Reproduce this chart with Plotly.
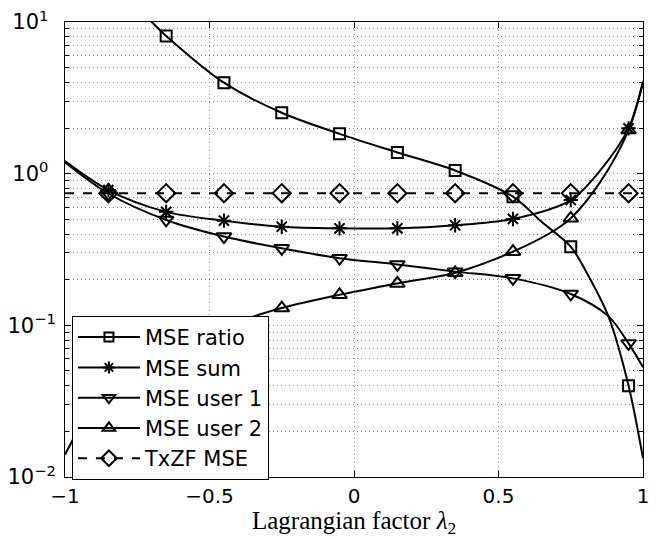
import plotly.graph_objects as go

# ---- data ----
x_mark = [-0.85, -0.65, -0.45, -0.25, -0.05, 0.15, 0.35, 0.55, 0.75, 0.95]

ratio_mark = [None, 8.1, 3.98, 2.52, 1.83, 1.38, 1.05, 0.705, 0.33, 0.040]
ratio_line_x = [-0.75, -0.70, -0.65, -0.45, -0.25, -0.05, 0.15, 0.35, 0.55, 0.65, 0.75, 0.80, 0.88, 0.95, 1.0]
ratio_line_y = [12.5, 10.0, 8.1, 3.98, 2.52, 1.83, 1.38, 1.05, 0.705, 0.48, 0.33, 0.232, 0.115, 0.040, 0.0133]

sum_mark = [0.78, 0.56, 0.49, 0.447, 0.436, 0.436, 0.457, 0.503, 0.67, 1.99]
sum_line_x = [-1.0, -0.85, -0.65, -0.45, -0.25, -0.05, 0.15, 0.35, 0.55, 0.75, 0.85, 0.95, 1.0]
sum_line_y = [1.21, 0.78, 0.56, 0.49, 0.447, 0.436, 0.436, 0.457, 0.503, 0.67, 1.04, 1.99, 4.05]

user1_mark = [0.74, 0.495, 0.385, 0.322, 0.277, 0.252, 0.226, 0.204, 0.161, 0.076]
user1_line_x = [-1.0, -0.85, -0.65, -0.45, -0.25, -0.05, 0.15, 0.35, 0.55, 0.75, 0.88, 0.95, 1.0]
user1_line_y = [1.19, 0.74, 0.495, 0.385, 0.322, 0.277, 0.252, 0.226, 0.204, 0.161, 0.115, 0.076, 0.053]

user2_mark = [0.04, 0.065, 0.098, 0.13, 0.159, 0.189, 0.222, 0.306, 0.508, 1.94]
user2_line_x = [-1.0, -0.85, -0.65, -0.45, -0.35, -0.25, -0.05, 0.15, 0.35, 0.55, 0.70, 0.75, 0.85, 0.95, 1.0]
user2_line_y = [0.014, 0.04, 0.065, 0.098, 0.114, 0.13, 0.159, 0.189, 0.222, 0.306, 0.43, 0.508, 0.87, 1.94, 4.0]

txzf_value = 0.743
txzf_line_x = [-1.0, 1.0]

names = ["MSE ratio", "MSE sum", "MSE user 1", "MSE user 2", "TxZF MSE"]

x_ticks = [-1, -0.5, 0, 0.5, 1]
x_ticktext = ["\u22121", "\u22120.5", "0", "0.5", "1"]
y_ticks = [0.01, 0.1, 1, 10]
y_ticktext = ["10<sup>\u22122</sup>", "10<sup>\u22121</sup>",
              "10<sup>0\u2002</sup>", "10<sup>1\u2002</sup>"]
y_minor = [m * d for d in [0.01, 0.1, 1] for m in range(2, 10)]
x_title = "Lagrangian factor <i>\u03bb</i><sub>2</sub>"

# ---- figure ----
fig = go.Figure()
LW = 2
GRID = "#8a8a8a"
SANS = "DejaVu Sans, Liberation Sans, Arial, sans-serif"
series = [
    (names[0], ratio_line_x, ratio_line_y, ratio_mark, "square-open", 11, "solid"),
    (names[1], sum_line_x, sum_line_y, sum_mark, "asterisk-open", 12, "solid"),
    (names[2], user1_line_x, user1_line_y, user1_mark, "triangle-down-open", 13, "solid"),
    (names[3], user2_line_x, user2_line_y, user2_mark, "triangle-up-open", 13, "solid"),
    (names[4], txzf_line_x, [txzf_value] * len(txzf_line_x), [txzf_value] * len(x_mark), "diamond-open", 14, "dash"),
]

for name, lx, ly, my, sym, size, dash in series:
    fig.add_trace(go.Scatter(
        x=lx, y=ly, mode="lines", showlegend=False, hoverinfo="skip",
        line=dict(color="black", width=LW, dash=dash, shape="spline", smoothing=0.9),
    ))
    fig.add_trace(go.Scatter(
        x=x_mark, y=my, mode="markers", showlegend=False,
        marker=dict(symbol=sym, size=size, color="black", line=dict(color="black", width=LW)),
    ))

for name, lx, ly, my, sym, size, dash in series:
    fig.add_trace(go.Scatter(
        x=[None], y=[None], mode="lines+markers", name=name,
        line=dict(color="black", width=LW, dash=dash),
        marker=dict(symbol=sym, size=size - 2, color="black", line=dict(color="black", width=LW)),
    ))

fig.add_annotation(
    text=x_title, xref="paper", yref="paper", x=0.5, y=-0.099,
    xanchor="center", yanchor="middle", showarrow=False,
    font=dict(family="Liberation Serif, Times New Roman, serif", size=25, color="black"),
)

fig.update_layout(
    width=662, height=539,
    margin=dict(l=57, r=27, t=14, b=70, autoexpand=False),
    paper_bgcolor="white", plot_bgcolor="white",
    font=dict(family=SANS, size=21, color="black"),
    showlegend=True,
    legend=dict(
        x=0.012, y=0.354, xanchor="left", yanchor="top",
        bgcolor="white", bordercolor="black", borderwidth=1,
        font=dict(family=SANS, size=21), tracegroupgap=0, itemwidth=62,
    ),
    xaxis=dict(
        range=[-1, 1], tickvals=x_ticks, ticktext=x_ticktext,
        tickfont=dict(family=SANS, size=20), automargin=False,
        ticks="inside", ticklen=6, tickcolor="black", mirror="ticks",
        showline=True, linecolor="black", linewidth=1,
        showgrid=True, gridcolor=GRID, griddash="1px,3px", gridwidth=1,
        zeroline=False, ticklabelstandoff=1, ticklabeloverflow="allow",
    ),
    yaxis=dict(
        type="log", range=[-2, 1], tickvals=y_ticks, ticktext=y_ticktext,
        tickfont=dict(family=SANS, size=21), automargin=False,
        ticks="inside", ticklen=6, tickcolor="black", mirror="ticks",
        showline=True, linecolor="black", linewidth=1,
        showgrid=True, gridcolor=GRID, griddash="1px,3px", gridwidth=1,
        zeroline=False, ticklabelstandoff=4, ticklabeloverflow="allow",
        minor=dict(tickvals=y_minor, ticks="inside", ticklen=4, tickcolor="black",
                   showgrid=True, gridcolor=GRID, griddash="1px,3px", gridwidth=1),
    ),
)

fig.write_html("out.html")
